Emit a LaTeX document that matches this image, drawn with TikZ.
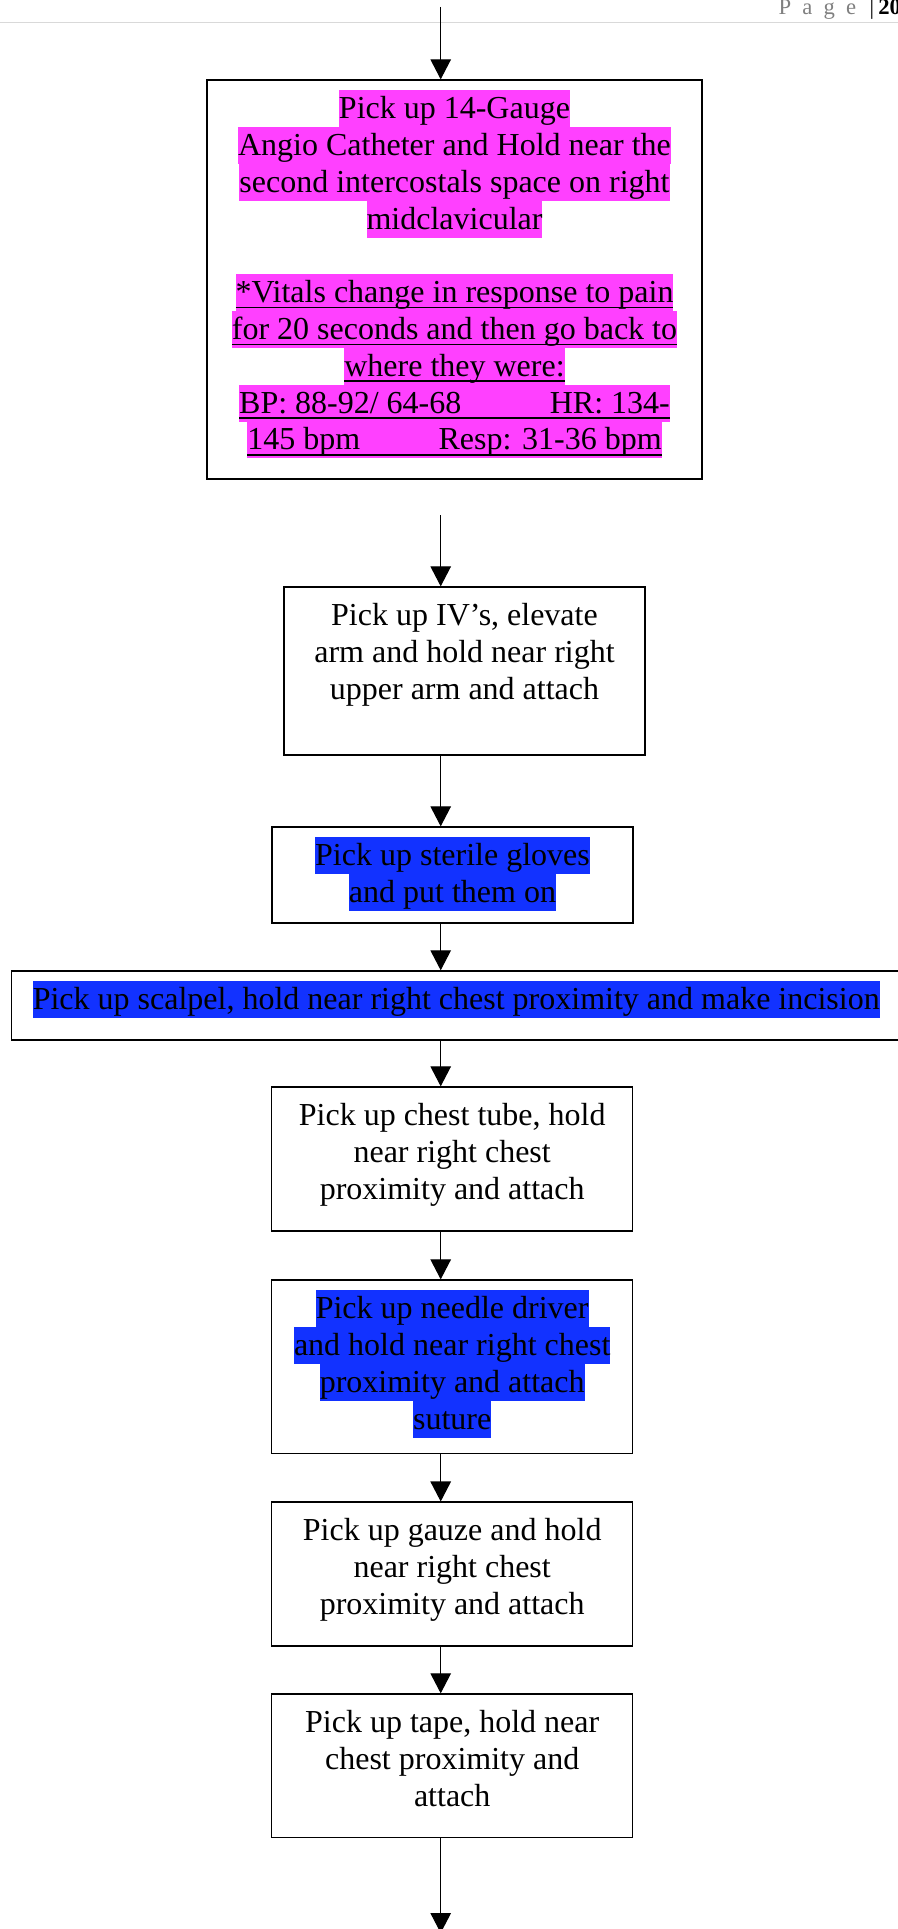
\documentclass[tikz,border=0pt]{standalone}
\usepackage{fontspec}
\setmainfont{Liberation Serif}
\usepackage{xcolor}
\usepackage{tikz}
\usetikzlibrary{arrows.meta}

\definecolor{hlpink}{RGB}{255,64,255}
\definecolor{hlblue}{RGB}{18,50,255}
\definecolor{pagegray}{RGB}{128,128,128}
\definecolor{rulegray}{RGB}{217,217,217}

% highlighted lines, one box per line
\newsavebox{\ulinebox}
\newcommand{\hlstrut}{\rule[-3.2pt]{0pt}{13.8pt}}
\newcommand{\hlp}[1]{{\setlength{\fboxsep}{0pt}\colorbox{hlpink}{\hlstrut#1}}}
\newcommand{\hlb}[1]{{\setlength{\fboxsep}{0pt}\colorbox{hlblue}{\hlstrut#1}}}
\newcommand{\hlu}[1]{\sbox{\ulinebox}{#1}{\setlength{\fboxsep}{0pt}\colorbox{hlpink}{\hlstrut\rlap{\rule[-2.1pt]{\wd\ulinebox}{0.55pt}}\usebox{\ulinebox}}}}
% width, height, lines
\newcommand{\steptext}[3]{\parbox[c][#2][t]{#1}{\fontsize{12}{13.8}\selectfont\centering\vspace*{3.9pt}\hlstrut#3\par}}

\begin{document}
\begin{tikzpicture}[x=0.375pt,y=-0.375pt,
  stepbox/.style={draw,line width=0.5pt,inner sep=0pt},
  flow/.style={line width=0.4pt,-{Triangle[length=7.5pt,width=7.7pt]}}]
\useasboundingbox (0,0) rectangle (898,1929);

% Page header
\draw[rulegray,line width=0.55pt] (0,22.7) -- (898,22.7);
\node[anchor=base west,inner sep=0pt,font=\fontsize{8.5}{10}\selectfont] (pagenum) at (778,15)
  {\textcolor{pagegray}{P\hspace{4.2pt}a\hspace{4.2pt}g\hspace{4.2pt}e}\hspace{5pt}|\hspace{1.6pt}\textbf{20}};

% Steps
\node[stepbox] (pick14) at (454.5,279.5) {\steptext{185.6pt}{149.6pt}{%
  \hlp{Pick up 14-Gauge}\\
  \hlp{Angio Catheter and Hold near the}\\
  \hlp{second intercostals space on right}\\
  \hlp{midclavicular}\\
  \hlstrut\\
  \hlu{*Vitals change in response to pain}\\
  \hlu{for 20 seconds and then go back to}\\
  \hlu{where they were:}\\
  \hlu{\makebox[161.5pt][s]{BP: 88-92/ 64-68\hfill HR: 134-}}\\
  \hlu{\makebox[155.4pt][s]{145 bpm\hfill Resp: 31-36 bpm}}}};

\node[stepbox] (ivs) at (464.5,671) {\steptext{135.4pt}{63pt}{%
  Pick up IV’s, elevate\\ arm and hold near right\\ upper arm and attach}};

\node[stepbox] (gloves) at (452.5,875) {\steptext{135.4pt}{36pt}{%
  \hlb{Pick up sterile gloves}\\ \hlb{and put them on}}};

\node[stepbox] (scalpel) at (456.25,1005.5) {\steptext{333.6pt}{25.9pt}{%
  \hlb{Pick up scalpel, hold near right chest proximity and make incision}}};

\node[stepbox] (tube) at (452.2,1159) {\steptext{135.4pt}{54pt}{%
  Pick up chest tube, hold\\ near right chest\\ proximity and attach}};

\node[stepbox] (needle) at (452.2,1366.7) {\steptext{135.4pt}{65pt}{%
  \hlb{Pick up needle driver}\\ \hlb{and hold near right chest}\\
  \hlb{proximity and attach}\\ \hlb{suture}}};

\node[stepbox] (gauze) at (452.2,1574) {\steptext{135.4pt}{53.9pt}{%
  Pick up gauze and hold\\ near right chest\\ proximity and attach}};

\node[stepbox] (tape) at (452.2,1765.7) {\steptext{135.4pt}{53.8pt}{%
  Pick up tape, hold near\\ chest proximity and\\ attach}};

% Arrows
\coordinate (feedin) at (440.7,7);
\coordinate (gapin) at (440.7,515);
\coordinate (feedout) at (440.7,1933);
\draw[flow] (feedin) -- (pick14.north -| feedin);
\draw[flow] (gapin) -- (ivs.north -| gapin);
\foreach \a/\b in {ivs/gloves,gloves/scalpel,scalpel/tube,tube/needle,needle/gauze,gauze/tape}
  \draw[flow] (\a.south -| feedin) -- (\b.north -| feedin);
\draw[flow] (tape.south -| feedout) -- (feedout);
\end{tikzpicture}
\end{document}
